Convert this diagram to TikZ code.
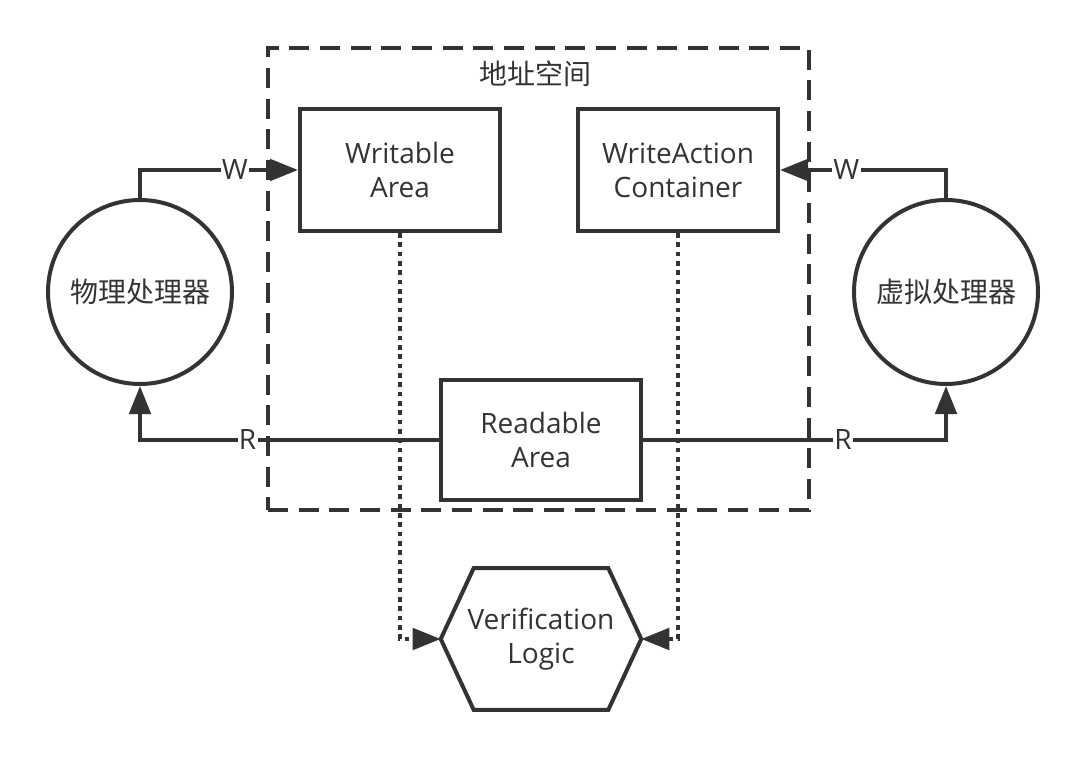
\documentclass[tikz,border=0pt]{standalone}
\usepackage{fontspec}
\setmainfont{Open Sans}
\newfontfamily\cjk{Noto Sans CJK SC}
\usetikzlibrary{arrows.meta}
\definecolor{ink}{HTML}{333333}
\tikzset{
  every node/.style={text=ink, font=\fontsize{21}{25.5}\selectfont, align=center},
  ln/.style={draw=ink, line width=3pt},
  boxn/.style={ln, fill=white, minimum width=150pt, minimum height=91.5pt, inner sep=0pt},
  proc/.style={ln, fill=white, circle, minimum size=138pt, inner sep=0pt},
  arr/.style={ln, -{Triangle[length=21pt,width=16pt]}},
  lbl/.style={fill=white, inner sep=1pt},
  dotln/.style={dash pattern=on 3.5pt off 3.5pt},
  dashln/.style={dash pattern=on 15pt off 8pt}
}
\begin{document}
\begin{tikzpicture}[x=0.75pt,y=-0.75pt]
\useasboundingbox (0,0) rectangle (1089,759);
\node[ln, dashln, minimum width=405.75pt, minimum height=346.5pt, inner sep=0pt] (space) at (538.5,279) {};
\node (title) at (535,74) {\cjk 地址空间};
\node[boxn] (wa) at (400,170) {Writable\\Area};
\node[boxn] (wc) at (678,170) {WriteAction\\Container};
\node[boxn, minimum height=90pt] (ra) at (541,440) {Readable\\Area};
\node[proc] (lp) at (140,292) {\cjk 物理处理器};
\node[proc] (vp) at (946,292) {\cjk 虚拟处理器};
\node[minimum width=150pt, minimum height=106pt, inner sep=0pt] (vl) at (541,639) {Verification\\Logic};
\draw[ln] (vl.west) -- ([xshift=24.75pt]vl.north west) -- ([xshift=-24.75pt]vl.north east) -- (vl.east) -- ([xshift=-24.75pt]vl.south east) -- ([xshift=24.75pt]vl.south west) -- cycle;
\draw[arr] (lp.north) |- node[lbl, pos=0.8] {W} (wa.west);
\draw[arr] (vp.north) |- node[lbl, pos=0.8] {W} (wc.east);
\draw[arr] (ra.west) -| node[lbl, pos=0.32] {R} (lp.south);
\draw[arr] (ra.east) -| node[lbl, pos=0.33] {R} (vp.south);
\draw[arr, dotln] (wa.south) |- (vl.west);
\draw[arr, dotln] (wc.south) |- (vl.east);
\end{tikzpicture}
\end{document}
